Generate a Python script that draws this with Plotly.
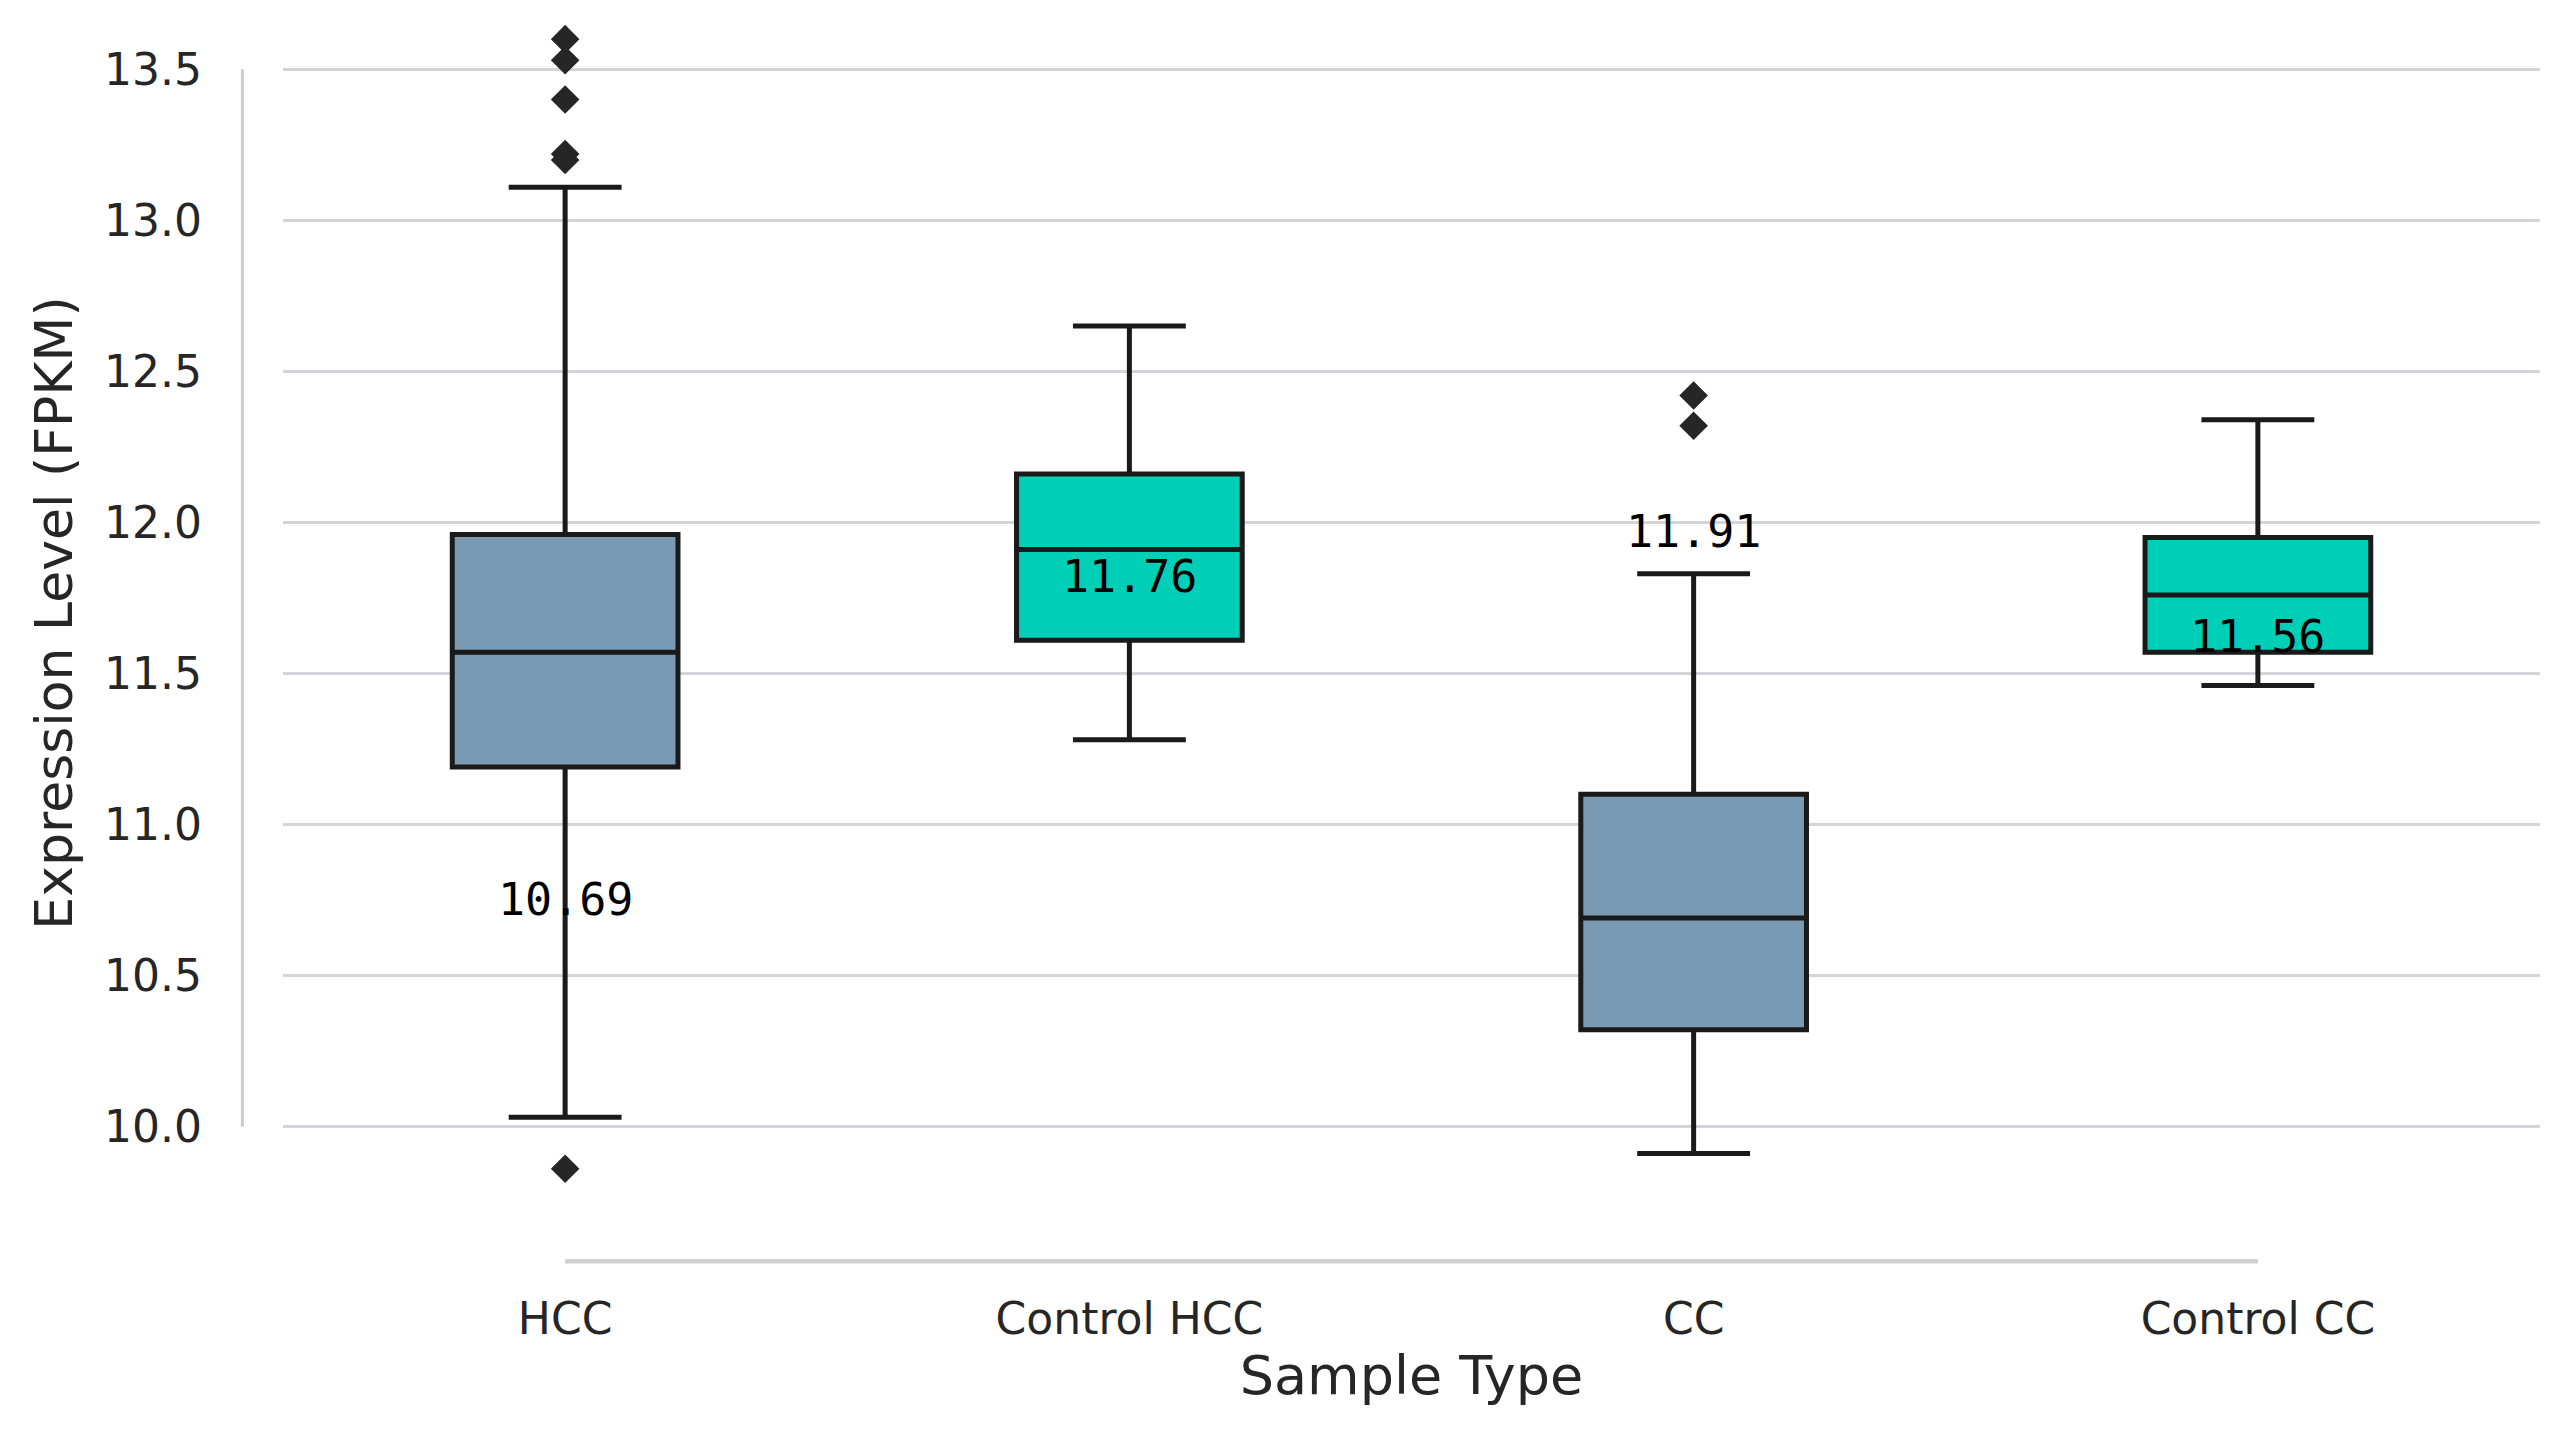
import plotly.graph_objects as go

# box statistics
categories = ["HCC", "Control HCC", "CC", "Control CC"]
q1 = [11.19, 11.61, 10.32, 11.57]
medians = [11.57, 11.91, 10.69, 11.76]
q3 = [11.96, 12.16, 11.10, 11.95]
lower_whisker = [10.03, 11.28, 9.91, 11.46]
upper_whisker = [13.11, 12.65, 11.83, 12.34]

# outliers
outlier_x = ["HCC", "HCC", "HCC", "HCC", "HCC", "HCC", "CC", "CC"]
outlier_y = [13.60, 13.53, 13.40, 13.22, 13.20, 9.86, 12.42, 12.32]

# median labels as printed on the chart
label_values = [10.69, 11.76, 11.91, 11.56]

y_ticks = [10.0, 10.5, 11.0, 11.5, 12.0, 12.5, 13.0, 13.5]

box_colors = ["#7a99b2", "#00cfb8", "#7a99b2", "#00cfb8"]
line_col = "#1a1a1a"
text_col = "#262626"
grid_col = "#d2d5d9"

fig = go.Figure()

for i, cat in enumerate(categories):
    fig.add_trace(go.Box(
        x=[cat],
        q1=[q1[i]], median=[medians[i]], q3=[q3[i]],
        lowerfence=[lower_whisker[i]], upperfence=[upper_whisker[i]],
        width=0.4,
        whiskerwidth=0.5,
        fillcolor=box_colors[i],
        line=dict(color=line_col, width=5),
        boxpoints=False,
        showlegend=False,
        hoverinfo="skip",
    ))

fig.add_trace(go.Scatter(
    x=outlier_x, y=outlier_y, mode="markers",
    marker=dict(symbol="diamond", size=22, color="#262626", line=dict(width=0)),
    showlegend=False, hoverinfo="skip",
))

for cat, v in zip(categories, label_values):
    fig.add_annotation(
        x=cat, y=v, text=f"{v:.2f}", showarrow=False,
        xanchor="center", yanchor="bottom", yshift=-10,
        font=dict(family="DejaVu Sans Mono", size=45, color="black"),
    )

# trimmed, offset spines (seaborn despine style)
fig.add_shape(type="line", xref="paper", yref="y",
              x0=-0.018, x1=-0.018, y0=y_ticks[0], y1=y_ticks[-1],
              line=dict(color="#cccccc", width=3))
fig.add_shape(type="line", xref="x", yref="paper",
              x0=categories[0], x1=categories[-1], y0=-0.042, y1=-0.042,
              line=dict(color="#d0d0d0", width=4.5))

fig.update_layout(
    width=2562, height=1434,
    margin=dict(l=275, r=30, t=7, b=231),
    paper_bgcolor="white", plot_bgcolor="white",
    font=dict(family="DejaVu Sans", color=text_col),
    boxmode="overlay",
)
fig.update_xaxes(
    type="category", categoryorder="array", categoryarray=categories,
    range=[-0.5, 3.5], showgrid=False, zeroline=False, showline=False,
    ticks="", ticklabelstandoff=78,
    tickfont=dict(size=44, color=text_col),
    title=dict(text="Sample Type", font=dict(size=54, color=text_col), standoff=10),
    automargin=False,
)
fig.update_yaxes(
    range=[9.72, 13.68], tickvals=y_ticks, ticktext=[f"{t:.1f}" for t in y_ticks],
    showgrid=True, gridcolor=grid_col, gridwidth=2.5, zeroline=False, showline=False,
    ticks="", ticklabelstandoff=80,
    tickfont=dict(size=44, color=text_col),
    title=dict(text="Expression Level (FPKM)", font=dict(size=52, color=text_col), standoff=14),
    automargin=False,
)

fig.write_html("out.html")
